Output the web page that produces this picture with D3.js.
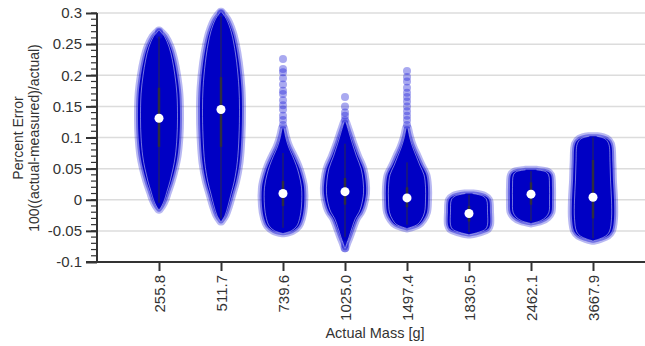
<!DOCTYPE html>
<html>
<head>
<meta charset="utf-8">
<script src="https://cdn.jsdelivr.net/npm/d3@7"></script>
<style>
  html, body { margin: 0; padding: 0; background: #fff; }
  svg { display: block; font-family: "Liberation Sans", Arial, sans-serif; }
</style>
</head>
<body>
<svg id="chart" width="645" height="346"></svg>
<script>
// ---------------- DATA ----------------
const categories = ["255.8", "511.7", "739.6", "1025.0", "1497.4", "1830.5", "2462.1", "3667.9"];

// medians (white dots)
const medians = [0.131, 0.145, 0.010, 0.013, 0.003, -0.022, 0.009, 0.004];
// inter-quartile range (thick line)
const q1 = [0.085, 0.085, -0.010, -0.008, -0.012, -0.035, -0.008, -0.030];
const q3 = [0.180, 0.197, 0.030, 0.035, 0.020, -0.010, 0.028, 0.064];
// whisker ends (thin line)
const whiskerLo = [-0.005, -0.030, -0.045, -0.060, -0.040, -0.052, -0.034, -0.062];
const whiskerHi = [0.262, 0.295, 0.075, 0.090, 0.060, 0.008, 0.046, 0.100];

// dense point-cloud outlines: [value, relative width]
const cloud255 = [[0.272,0.02],[0.262,0.3],[0.245,0.55],[0.225,0.72],[0.2,0.86],[0.17,0.97],[0.13,1],[0.1,0.97],[0.07,0.88],[0.05,0.76],[0.03,0.6],[0.012,0.42],[0,0.3],[-0.01,0.15],[-0.016,0.02]];
const cloud511 = [[0.302,0.02],[0.29,0.3],[0.27,0.55],[0.25,0.7],[0.22,0.85],[0.18,0.97],[0.145,1],[0.1,0.97],[0.06,0.88],[0.03,0.72],[0.01,0.55],[-0.01,0.38],[-0.025,0.22],[-0.035,0.02]];
const cloud739 = [[0.115,0.05],[0.1,0.15],[0.085,0.3],[0.07,0.52],[0.055,0.72],[0.04,0.87],[0.02,1],[-0.01,1],[-0.03,0.9],[-0.042,0.75],[-0.05,0.45],[-0.054,0.02]];
const cloud1025 = [[0.125,0.05],[0.11,0.2],[0.09,0.4],[0.07,0.62],[0.05,0.87],[0.03,0.98],[0.01,1],[-0.01,0.88],[-0.02,0.76],[-0.03,0.56],[-0.045,0.38],[-0.06,0.22],[-0.07,0.1],[-0.078,0.02]];
const cloud1497 = [[0.115,0.05],[0.1,0.15],[0.085,0.3],[0.07,0.5],[0.055,0.7],[0.04,0.92],[0.02,1],[0,1],[-0.02,0.95],[-0.032,0.78],[-0.04,0.55],[-0.046,0.02]];
const cloud1830 = [[0.01,0.2],[0.006,0.75],[0,0.95],[-0.02,1],[-0.04,1],[-0.047,0.9],[-0.052,0.55],[-0.056,0.02]];
const cloud2462 = [[0.048,0.3],[0.045,0.8],[0.04,0.95],[0.02,1],[0,1],[-0.02,0.97],[-0.028,0.8],[-0.034,0.5],[-0.038,0.02]];
const cloud3667 = [[0.102,0.2],[0.098,0.65],[0.09,0.85],[0.06,0.92],[0.03,0.95],[0,1],[-0.03,1],[-0.05,0.9],[-0.058,0.7],[-0.063,0.35],[-0.066,0.02]];
const clouds = [cloud255, cloud511, cloud739, cloud1025, cloud1497, cloud1830, cloud2462, cloud3667];

// sparse tail points (individual measurements)
const tail255 = [0.27, 0.265];
const tail511 = [0.30];
const tail739 = [0.226, 0.21, 0.205, 0.195, 0.185, 0.175, 0.17, 0.16, 0.152, 0.145, 0.135, 0.128, 0.12];
const tail1025 = [0.165, 0.15, 0.14, 0.135, 0.128, -0.072, -0.078];
const tail1497 = [0.207, 0.197, 0.19, 0.18, 0.172, 0.165, 0.158, 0.15, 0.142, 0.135, 0.128, 0.12];
const tail1830 = [];
const tail2462 = [];
const tail3667 = [];
const tails = [tail255, tail511, tail739, tail1025, tail1497, tail1830, tail2462, tail3667];

const yTicks = [-0.1, -0.05, 0, 0.05, 0.1, 0.15, 0.2, 0.25, 0.3];
const yTickLabels = ["-0.1", "-0.05", "0", "0.05", "0.1", "0.15", "0.2", "0.25", "0.3"];
const yMinorTicks = d3.range(-10, 31).map(d => d / 100);

const xTitle = "Actual Mass [g]";
const yTitle = ["Percent Error", "100((actual-measured)/actual)"];

// ---------------- DRAWING ----------------
const svg = d3.select("#chart");
const W = 645, H = 346;
const plotLeft = 97, plotTop = 13, plotBottom = 262;

const y = d3.scaleLinear().domain([-0.1, 0.3]).range([plotBottom, plotTop]);
const x = d3.scalePoint().domain(categories).range([plotLeft, 655]).padding(1);
const w = d3.scaleLinear().domain([0, 1]).range([0, 21]);

// grid
svg.append("g").selectAll("line").data(yTicks.filter(v => v !== -0.1)).join("line")
  .attr("x1", plotLeft).attr("x2", W)
  .attr("y1", d => y(d)).attr("y2", d => y(d))
  .attr("stroke", "#dcdcdc").attr("stroke-width", 1.5);

const ink = "#0000c4";
const area = d3.area()
  .y(d => y(d[0]))
  .curve(d3.curveCatmullRom.alpha(0.5));

const vg = svg.append("g");
categories.forEach((c, i) => {
  const cx = x(c);
  const a = area.x0(d => cx - w(d[1])).x1(d => cx + w(d[1]));
  const g = vg.append("g");
  // fuzzy halo of translucent points
  g.append("path").attr("d", a(clouds[i]))
    .attr("fill", "none").attr("stroke", "rgba(40,40,215,0.33)")
    .attr("stroke-width", 8).attr("stroke-linejoin", "round");
  g.append("path").attr("d", a(clouds[i]))
    .attr("fill", "none").attr("stroke", "rgba(20,20,210,0.45)")
    .attr("stroke-width", 4).attr("stroke-linejoin", "round");
  // dense core
  g.append("path").attr("d", a(clouds[i])).attr("fill", ink);
  // tail points
  g.selectAll("circle.t").data(tails[i]).join("circle")
    .attr("class", "t")
    .attr("cx", cx).attr("cy", d => y(d)).attr("r", 4)
    .attr("fill", "rgba(30,30,215,0.38)");
  // kde outline (light)
  const wi = d3.scaleLinear().domain([0, 1]).range([0, 18.5]);
  const line = d3.line().curve(d3.curveCatmullRom.alpha(0.5));
  const pts = clouds[i];
  g.append("path")
    .attr("d", line(pts.map(d => [cx - wi(d[1]), y(d[0])])))
    .attr("fill", "none").attr("stroke", "rgba(255,255,255,0.45)").attr("stroke-width", 1);
  g.append("path")
    .attr("d", line(pts.map(d => [cx + wi(d[1]), y(d[0])])))
    .attr("fill", "none").attr("stroke", "rgba(255,255,255,0.45)").attr("stroke-width", 1);
  // whisker
  g.append("line").attr("x1", cx).attr("x2", cx)
    .attr("y1", y(whiskerLo[i])).attr("y2", y(whiskerHi[i]))
    .attr("stroke", "#333").attr("stroke-opacity", 0.85).attr("stroke-width", 1);
  // IQR
  g.append("line").attr("x1", cx).attr("x2", cx)
    .attr("y1", y(q1[i])).attr("y2", y(q3[i]))
    .attr("stroke", "#333").attr("stroke-opacity", 0.85).attr("stroke-width", 2.5);
  // median
  g.append("circle").attr("cx", cx).attr("cy", y(medians[i])).attr("r", 4.5)
    .attr("fill", "#fff");
});

// axes
const axisColor = "#333";
const yAxis = svg.append("g").attr("transform", `translate(${plotLeft},0)`)
  .call(d3.axisLeft(y).tickValues(yTicks).tickSize(11).tickPadding(4)
    .tickFormat((d, i) => yTickLabels[i]));
yAxis.select(".domain").remove();
svg.append("g").selectAll("line").data(yMinorTicks).join("line")
  .attr("x1", plotLeft - 6).attr("x2", plotLeft)
  .attr("y1", d => y(d)).attr("y2", d => y(d))
  .attr("stroke", axisColor).attr("stroke-width", 1.2);
svg.append("line").attr("x1", plotLeft).attr("x2", plotLeft).attr("y1", plotTop).attr("y2", plotBottom)
  .attr("stroke", axisColor).attr("stroke-width", 2);

const xAxis = svg.append("g").attr("transform", `translate(0,${plotBottom})`)
  .call(d3.axisBottom(x).tickSize(9).tickPadding(4));
xAxis.select(".domain").remove();
xAxis.selectAll("text")
  .attr("transform", "rotate(-90)")
  .attr("text-anchor", "end")
  .attr("x", -13).attr("y", 0).attr("dy", "0.35em");
svg.append("line").attr("x1", plotLeft - 11).attr("x2", W).attr("y1", plotBottom).attr("y2", plotBottom)
  .attr("stroke", axisColor).attr("stroke-width", 2);

[xAxis, yAxis].forEach(ax => {
  ax.selectAll(".tick line").attr("stroke", axisColor).attr("stroke-width", 2);
  ax.selectAll(".tick text").attr("fill", "#333").style("font-size", "15px")
    .style("font-family", "'Liberation Sans', Arial, sans-serif");
});

// titles
svg.append("text").attr("x", 375).attr("y", 338).attr("text-anchor", "middle")
  .attr("fill", "#333").style("font-size", "14.5px").text(xTitle);
const yt = svg.append("text").attr("transform", "translate(0,138) rotate(-90)")
  .attr("text-anchor", "middle").attr("fill", "#333").style("font-size", "14px");
yt.append("tspan").attr("x", 0).attr("y", 23).text(yTitle[0]);
yt.append("tspan").attr("x", 0).attr("y", 39).text(yTitle[1]);
</script>
</body>
</html>
